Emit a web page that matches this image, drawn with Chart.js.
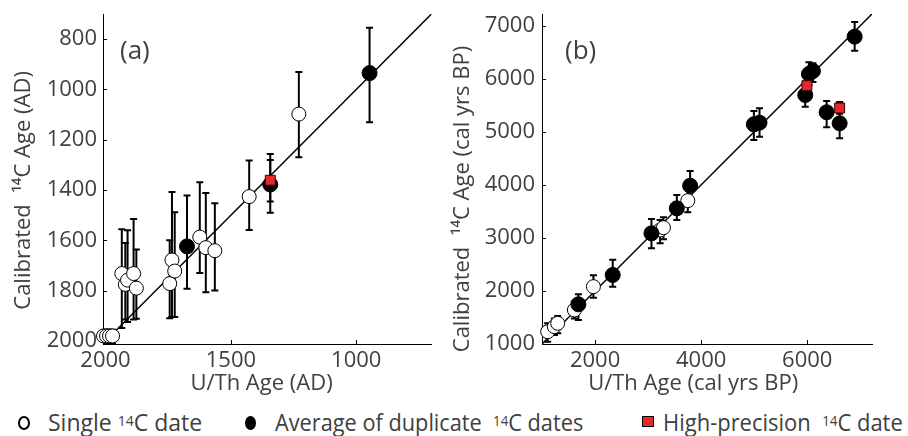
<!DOCTYPE html>
<html>
<head>
<meta charset="utf-8">
<title>U/Th vs calibrated 14C ages</title>
<script src="https://cdn.jsdelivr.net/npm/chart.js@4.4.1/dist/chart.umd.min.js"></script>
<style>
  html, body { margin: 0; padding: 0; background: #fff; }
  body {
    width: 908px; height: 436px; position: relative; overflow: hidden;
    font-family: 'Open Sans', 'Noto Sans', sans-serif; color: #404040;
  }
  .panel { position: absolute; top: 0; height: 400px; }
  #panelA { left: 0; width: 440px; }
  #panelB { left: 440px; width: 468px; }
  .tag { position: absolute; top: 34px; font-size: 26px; line-height: 30px; }
  #tagA { left: 120px; }
  #tagB { left: 565px; }
  .mk { position: absolute; box-sizing: border-box; }
  .mk.open { left: 18px; top: 416px; width: 12px; height: 14px; border: 2.5px solid #000; border-radius: 50%; }
  .mk.dup { left: 245px; top: 416px; width: 11px; height: 14px; background: #000; border-radius: 50%; }
  .mk.hp { left: 642px; top: 416px; width: 12px; height: 11px; background: #e8262d; border: 1px solid #000; }
  .lt {
    position: absolute; top: 411px; font-size: 23px; line-height: 23px;
    white-space: pre; transform-origin: left center;
  }
  .lt sup { font-size: 14px; line-height: 0; vertical-align: 5px; }
  #lt1 { left: 48px; }
  #lt2 { left: 275px; transform: scaleX(0.945); }
  #lt3 { left: 663px; transform: scaleX(0.955); }
</style>
</head>
<body>
<div id="panelA" class="panel"><canvas id="chartA"></canvas></div>
<div id="panelB" class="panel"><canvas id="chartB"></canvas></div>
<div id="tagA" class="tag">(a)</div>
<div id="tagB" class="tag">(b)</div>

<span class="mk open"></span><span id="lt1" class="lt">Single <sup>14</sup>C date</span>
<span class="mk dup"></span><span id="lt2" class="lt">Average of duplicate  <sup>14</sup>C dates</span>
<span class="mk hp"></span><span id="lt3" class="lt">High-precision  <sup>14</sup>C date</span>

<script>
// rows: [U/Th age, calibrated 14C age, error bar low, error bar high]

// panel (a), ages in years AD
const singleA = [
    [2008, 1980, 1955, 2010],
    [1996, 1980, 1955, 2010],
    [1984, 1980, 1955, 2010],
    [1972, 1980, 1955, 2010],
    [1935, 1732, 1556, 1948],
    [1921, 1775, 1610, 1915],
    [1912, 1758, 1560, 1925],
    [1888, 1732, 1515, 1915],
    [1877, 1790, 1636, 1912],
    [1744, 1772, 1600, 1910],
    [1735, 1678, 1408, 1905],
    [1724, 1722, 1488, 1905],
    [1624, 1587, 1369, 1730],
    [1600, 1629, 1412, 1806],
    [1564, 1641, 1452, 1799],
    [1427, 1426, 1282, 1559],
    [1229, 1098, 931, 1270]
];
const duplicateA = [
    [1675, 1624, 1422, 1792],
    [1343, 1378, 1257, 1490],
    [947, 935, 755, 1130]
];
const highPrecA = [
    [1343, 1361, 1280, 1445]
];

// panel (b), ages in cal yrs BP
const singleB = [
    [1107, 1232, 1044, 1390],
    [1233, 1327, 1170, 1480],
    [1296, 1390, 1201, 1528],
    [1610, 1641, 1480, 1800],
    [1969, 2081, 1873, 2294],
    [3226, 3149, 2897, 3337],
    [3289, 3193, 2973, 3388],
    [3748, 3702, 3482, 3920]
];
const duplicateB = [
    [1686, 1748, 1452, 1936],
    [2333, 2301, 2081, 2590],
    [3063, 3086, 2803, 3356],
    [3541, 3557, 3337, 3808],
    [3792, 3984, 3710, 4261],
    [4993, 5140, 4845, 5392],
    [5100, 5172, 4908, 5442],
    [5962, 5693, 5474, 5900],
    [6031, 6089, 5880, 6310],
    [6107, 6146, 5940, 6290],
    [6365, 5368, 5085, 5581],
    [6610, 5160, 4877, 5420],
    [6893, 6793, 6529, 7069]
];
const highPrecB = [
    [5993, 5869, 5790, 5950],
    [6610, 5449, 5340, 5560]
];

// 1:1 line ends and tick labels
const lineA = [700, 2010];
const lineB = [1000, 7220];
const xTicksA = [2000, 1500, 1000];
const yTicksA = [800, 1000, 1200, 1400, 1600, 1800, 2000];
const xTicksB = [2000, 4000, 6000];
const yTicksB = [1000, 2000, 3000, 4000, 5000, 6000, 7000];

const TEXT = '#404040';
const FONT = "'Open Sans', 'Noto Sans', sans-serif";
Chart.defaults.font.family = FONT;
Chart.defaults.color = TEXT;

// vertical error bars with caps, drawn under the markers
const errorBars = {
    id: 'errorBars',
    beforeDatasetsDraw(chart) {
        const { ctx, chartArea: a, scales: { x, y } } = chart;
        ctx.save();
        ctx.beginPath();
        ctx.rect(a.left, a.top, a.width, a.height);
        ctx.clip();
        ctx.strokeStyle = '#000';
        ctx.lineWidth = 2;
        chart.data.datasets.forEach(ds => {
            if (!ds.errors) return;
            ds.data.forEach((p, i) => {
                const px = x.getPixelForValue(p.x);
                const y1 = y.getPixelForValue(ds.errors[i][0]);
                const y2 = y.getPixelForValue(ds.errors[i][1]);
                ctx.beginPath();
                ctx.moveTo(px, y1); ctx.lineTo(px, y2);
                ctx.moveTo(px - 3.5, y1); ctx.lineTo(px + 3.5, y1);
                ctx.moveTo(px - 3.5, y2); ctx.lineTo(px + 3.5, y2);
                ctx.stroke();
            });
        });
        ctx.restore();
    }
};

// short tick marks pointing into the plot area
const innerTicks = {
    id: 'innerTicks',
    beforeDatasetsDraw(chart) {
        const { ctx, chartArea: a, scales: { x, y } } = chart;
        ctx.save();
        ctx.strokeStyle = '#000';
        ctx.lineWidth = 1;
        ctx.beginPath();
        x.ticks.forEach(t => {
            const px = Math.round(x.getPixelForValue(t.value)) + 0.5;
            ctx.moveTo(px, a.bottom);
            ctx.lineTo(px, a.bottom - 4);
        });
        y.ticks.forEach(t => {
            const py = Math.round(y.getPixelForValue(t.value)) + 0.5;
            ctx.moveTo(a.left, py);
            ctx.lineTo(a.left + 4, py);
        });
        ctx.stroke();
        ctx.restore();
    }
};

function markers(rows, style, order) {
    return Object.assign({
        data: rows.map(r => ({ x: r[0], y: r[1] })),
        errors: rows.map(r => [r[2], r[3]]),
        clip: false,
        order: order
    }, style);
}

const openStyle = { pointStyle: 'circle', pointRadius: 7, backgroundColor: '#fff', borderColor: '#000', borderWidth: 1 };
const dupStyle = { pointStyle: 'circle', pointRadius: 7.5, backgroundColor: '#000', borderColor: '#000', borderWidth: 1 };
const hpStyle = { pointStyle: 'rect', pointRadius: 7, backgroundColor: '#e8262d', borderColor: '#3a0000', borderWidth: 1 };

function axis(opts) {
    const ticks = opts.ticks;
    const horizontal = opts.horizontal;
    return {
        type: 'linear',
        min: opts.min,
        max: opts.max,
        reverse: !!opts.reverse,
        afterBuildTicks: s => { s.ticks = ticks.map(v => ({ value: v })); },
        afterFit: s => {
            if (horizontal) s.height = opts.size; else s.width = opts.size;
            s.paddingTop = s.paddingBottom = s.paddingLeft = s.paddingRight = 0;
        },
        grid: { drawOnChartArea: false, drawTicks: false },
        border: { color: '#000', width: 1 },
        ticks: {
            color: TEXT,
            font: { size: 22 },
            padding: opts.tickPad,
            maxRotation: 0,
            autoSkip: false,
            callback: v => String(v)
        },
        title: {
            display: true,
            text: opts.title,
            color: TEXT,
            font: { size: 22 },
            padding: opts.titlePad
        }
    };
}

function makePanel(id, cfg) {
    const lo = cfg.line[0], hi = cfg.line[1];
    return new Chart(document.getElementById(id), {
        type: 'scatter',
        data: {
            datasets: [
                {
                    type: 'line',
                    data: [{ x: lo, y: lo }, { x: hi, y: hi }],
                    borderColor: '#000',
                    borderWidth: 1.5,
                    pointRadius: 0,
                    order: 4
                },
                markers(cfg.single, openStyle, 3),
                markers(cfg.duplicate, dupStyle, 2),
                markers(cfg.highPrec, hpStyle, 1)
            ]
        },
        options: {
            responsive: true,
            maintainAspectRatio: false,
            animation: false,
            events: [],
            layout: { padding: { top: 14, right: cfg.padRight, left: 0, bottom: 0 } },
            plugins: { legend: { display: false }, tooltip: { enabled: false } },
            scales: {
                x: axis(Object.assign({ horizontal: true, size: 56, tickPad: 4 }, cfg.x)),
                y: axis(Object.assign({ horizontal: false }, cfg.y))
            }
        },
        plugins: [innerTicks, errorBars]
    });
}

makePanel('chartA', {
    line: lineA,
    single: singleA, duplicate: duplicateA, highPrec: highPrecA,
    padRight: 7,
    x: { min: 700, max: 2010, reverse: true, ticks: xTicksA,
         title: 'U/Th Age (AD)  ', titlePad: { top: 0, bottom: 3 } },
    y: { min: 700, max: 2012, reverse: true, ticks: yTicksA, size: 103, tickPad: 6,
         title: 'Calibrated  \u00b9\u2074C Age (AD)    ', titlePad: { top: 11, bottom: 0 } }
});

makePanel('chartB', {
    line: lineB,
    single: singleB, duplicate: duplicateB, highPrec: highPrecB,
    padRight: 36,
    x: { min: 1000, max: 7220, ticks: xTicksB,
         title: 'U/Th Age (cal yrs BP)\u2003 ', titlePad: { top: 0, bottom: 3 } },
    y: { min: 1000, max: 7220, ticks: yTicksB, size: 102, tickPad: 7,
         title: 'Calibrated  \u00b9\u2074C Age (cal yrs BP)       ', titlePad: { top: 10, bottom: 0 } }
});
</script>
</body>
</html>
